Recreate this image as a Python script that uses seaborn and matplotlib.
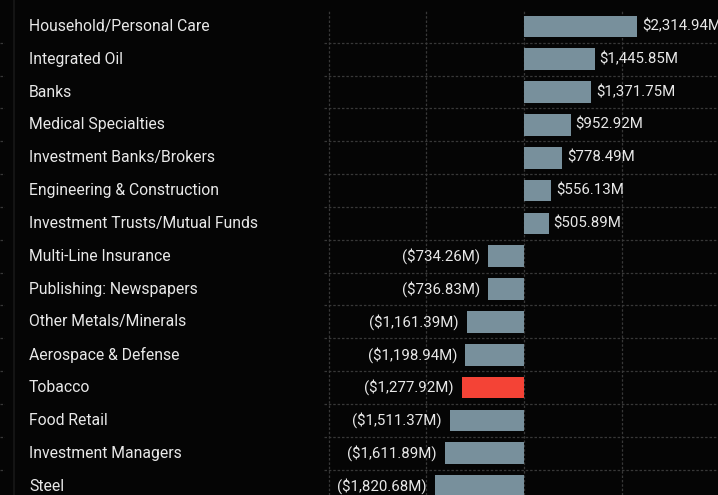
import numpy as np
import pandas as pd
import seaborn as sns
import matplotlib.pyplot as plt
from matplotlib.lines import Line2D
from matplotlib.transforms import blended_transform_factory

# datos
sectores = ['Household/Personal Care', 'Integrated Oil', 'Banks', 'Medical Specialties',
            'Investment Banks/Brokers', 'Engineering & Construction',
            'Investment Trusts/Mutual Funds', 'Multi-Line Insurance',
            'Publishing: Newspapers', 'Other Metals/Minerals', 'Aerospace & Defense',
            'Tobacco', 'Food Retail', 'Investment Managers', 'Steel']
valores = [2314.94, 1445.85, 1371.75, 952.92, 778.49, 556.13, 505.89, -734.26,
           -736.83, -1161.39, -1198.94, -1277.92, -1511.37, -1611.89, -1820.68]
destacado = 'Tobacco'

df = pd.DataFrame({'sector': sectores, 'valor': valores})
df['color'] = np.where(df['sector'] == destacado, 'rojo', 'gris')

fondo = '#050505'
texto = '#e8e8e8'
grid = '#383838'

sns.set_theme(style='dark')
plt.rcParams['font.family'] = ['Roboto', 'DejaVu Sans']

fig = plt.figure(figsize=(7.18, 4.95), dpi=100, facecolor=fondo)
W, H = 718, 495
ax = fig.add_axes([324 / W, 0, (718 - 324) / W, 485 / H])
ax.set_facecolor(fondo)

sns.barplot(data=df, y='sector', x='valor', hue='color', orient='h',
            palette={'gris': '#78909c', 'rojo': '#f44336'}, dodge=False,
            saturation=1, width=0.66, linewidth=0, edgecolor='none',
            legend=False, ax=ax)

n = len(sectores)
ax.set_xticks([-4000, -2000, 0, 2000, 4000])
ax.set_yticks(np.arange(n) + 0.5)
# los limites despues de los ticks (si no, se amplian)
ax.set_xlim(-4095, 3973)
ax.set_ylim(n - 1 + 9 / 32.9, -0.5)
ax.tick_params(left=False, bottom=False, labelleft=False, labelbottom=False)
ax.grid(True, color=grid, linestyle=(0, (2, 1.5)), linewidth=0.9)
for s in ax.spines.values():
    s.set_visible(False)
ax.set_xlabel('')
ax.set_ylabel('')

# etiquetas de valor
for i, v in enumerate(valores):
    if v >= 0:
        ax.annotate(f'${v:,.2f}M', (v, i), xytext=(3.5, 0), textcoords='offset points',
                    ha='left', va='center', color=texto, fontsize=10.8)
    else:
        ax.annotate(f'(${abs(v):,.2f}M)', (v, i), xytext=(-6, 0), textcoords='offset points',
                    ha='right', va='center', color=texto, fontsize=10.8)

# nombres de sector a la izquierda
trans = blended_transform_factory(fig.transFigure, ax.transData)
for i, s in enumerate(sectores):
    ax.text(29 / W, i, s, transform=trans, ha='left', va='center',
            color=texto, fontsize=11.3, clip_on=False)

# pequeño panel izquierdo
ax2 = fig.add_axes([0, 0, 5 / W, 485 / H])
ax2.set_facecolor(fondo)
ax2.set_yticks(np.arange(n) + 0.5)
ax2.set_ylim(ax.get_ylim())
ax2.set_xticks([])
ax2.tick_params(left=False, labelleft=False)
ax2.grid(True, axis='y', color=grid, linestyle=(0, (2, 1.5)), linewidth=0.9)
for s in ax2.spines.values():
    s.set_visible(False)
fig.add_artist(Line2D([13.5 / W, 13.5 / W], [0, 1], color='#141414', linewidth=1.5))

plt.savefig('out.png', dpi=100, facecolor=fondo)
